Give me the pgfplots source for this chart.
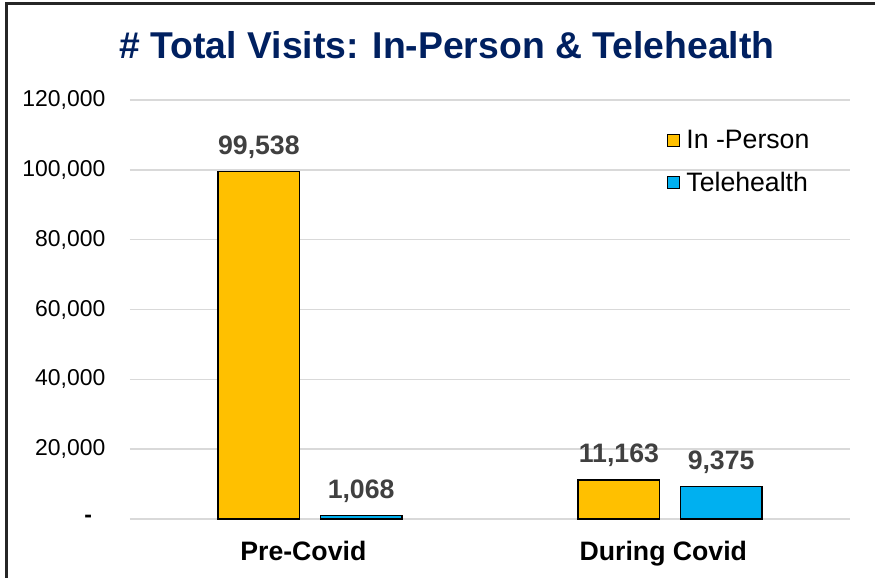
\documentclass[border=0pt]{standalone}
\usepackage{pgfplots}
\pgfplotsset{compat=1.18}
\usepackage{fontspec}
\setmainfont{Liberation Sans}
\usetikzlibrary{calc}

\definecolor{gold}{HTML}{FFC000}
\definecolor{sky}{HTML}{00B0F0}
\definecolor{navy}{HTML}{002060}
\definecolor{lbl}{HTML}{404040}
\definecolor{gridc}{HTML}{D9D9D9}

\begin{document}
\begin{tikzpicture}[x=0.75pt,y=0.75pt]
	\begin{axis}[
		name=ax,
		at={(0,0)}, anchor=south west,
		width=540pt, height=314.25pt, scale only axis,
		ybar, bar width=0.227,
		xmin=-0.5, xmax=1.5,
		ymin=0, ymax=120000,
		xtick={0,1}, xticklabels={Pre-Covid, During Covid},
		ytick={0,20000,40000,60000,80000,100000,120000},
		yticklabels={{\textbf{-}\kern10pt},{20,000},{40,000},{60,000},{80,000},{100,000},{120,000}},
		scaled y ticks=false,
		major tick length=0,
		axis line style={draw=none},
		ymajorgrids, grid style={gridc, line width=1.1pt},
		yticklabel style={font=\fontsize{17.2}{20}\selectfont, text=black, xshift=-15pt},
		xticklabel style={font=\fontsize{20}{23}\selectfont\bfseries, text=black, yshift=-13pt, xshift=-5pt},
		/pgf/number format/assume math mode=true,
		/pgf/number format/1000 sep={,},
		nodes near coords,
		nodes near coords style={font=\fontsize{20}{23}\selectfont\bfseries, text=lbl, yshift=6pt},
		legend style={at={(0.745,0.935)}, anchor=north west, draw=none, fill=none,
			font=\fontsize{20}{23}\selectfont, row sep=12pt, inner sep=0pt,
			/tikz/every odd column/.style={column sep=3pt}},
		legend cell align=left,
		legend image code/.code={\draw[#1, line width=0.8pt] (0pt,-4.5pt) rectangle (9pt,4.5pt);},
		clip=false,
		]
		\addplot[fill=gold, draw=black, line width=1pt, bar shift=-0.142]
		coordinates {(0,99538) (1,11163)};
		\addlegendentry{In -Person}
		\addplot[fill=sky, draw=black, line width=1pt, bar shift=0.142]
		coordinates {(0,1068) (1,9375)};
		\addlegendentry{Telehealth}
	\end{axis}
	% title and outer frame, in pixel-like units from the axis corners
	\node[font=\fontsize{28}{33}\selectfont\bfseries, text=navy]
		at ($(ax.north west)+(317,55)$) {\# Total Visits: In-Person \& Telehealth};
	\path[use as bounding box] ($(ax.south west)+(-130,-59)$) rectangle ($(ax.north east)+(25,100)$);
	\draw[line width=2.2pt, black!85] ($(ax.south west)+(-123.5,-60)$) -- ($(ax.north west)+(-123.5,96.5)$) -- ($(ax.north east)+(26,96.5)$);
\end{tikzpicture}
\end{document}
